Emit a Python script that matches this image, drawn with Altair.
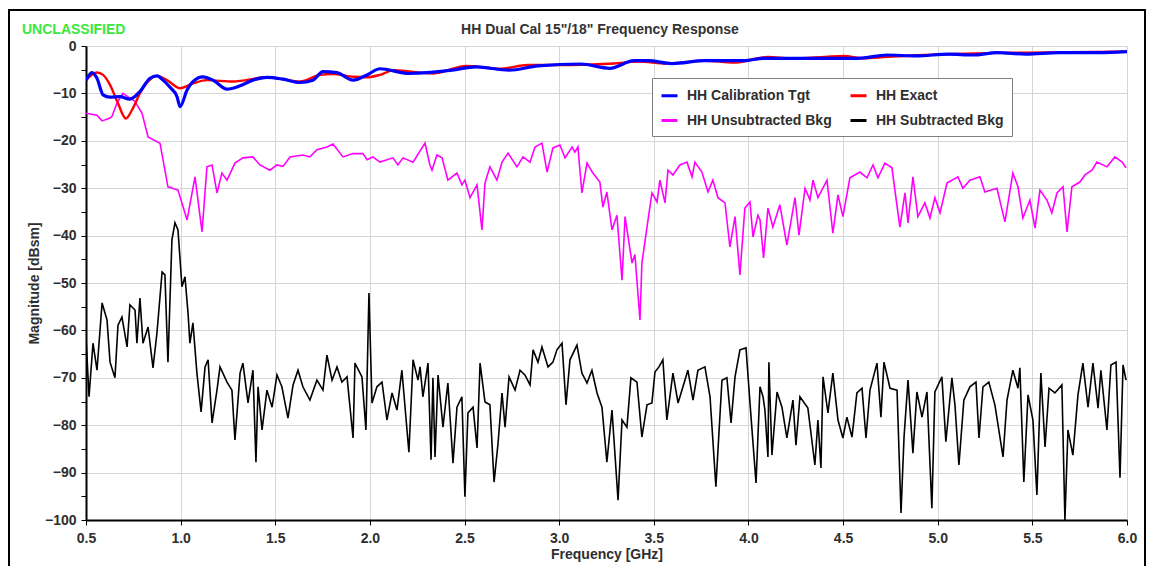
import altair as alt
import pandas as pd

# ---------------- data ----------------
# legend order (Vega fills the 2-column legend column by column)
series_names = ["HH Calibration Tgt", "HH Unsubtracted Bkg", "HH Exact", "HH Subtracted Bkg"]
series_colors = ["#0000ff", "#ff00ff", "#ff0000", "#000000"]

cal_f = [0.500, 0.532, 0.558, 0.590, 0.627, 0.680, 0.732, 0.785, 0.838, 0.875, 0.907,
         0.944, 0.981, 0.997, 1.034, 1.065, 1.118, 1.171, 1.245, 1.314, 1.382, 1.456,
         1.541, 1.631, 1.699, 1.752, 1.826, 1.911, 1.985, 2.053, 2.206, 2.434, 2.561,
         2.735, 2.888, 3.115, 3.268, 3.395, 3.469, 3.596, 3.770, 3.976, 4.077, 4.330,
         4.431, 4.579, 4.732, 4.885, 5.059, 5.186, 5.313, 5.466, 5.641, 5.847, 6.000]
cal_db = [-7.2, -5.6, -6.8, -10.3, -10.8, -10.7, -11.2, -9.6, -6.8, -6.3, -7.2,
          -8.7, -10.7, -12.8, -9.3, -7.5, -6.5, -7.2, -9.1, -8.4, -7.2, -6.6,
          -7.0, -7.7, -7.2, -5.4, -5.6, -7.2, -6.1, -4.8, -5.8, -5.1, -4.4,
          -5.1, -4.2, -3.8, -4.7, -3.1, -3.1, -3.7, -3.1, -3.1, -2.6, -2.6,
          -2.6, -2.6, -1.9, -2.1, -1.7, -1.9, -1.4, -1.7, -1.4, -1.4, -1.2]

exact_f = [0.500, 0.558, 0.590, 0.627, 0.669, 0.711, 0.743, 0.785, 0.828, 0.875, 0.928,
           0.997, 1.065, 1.139, 1.277, 1.456, 1.631, 1.736, 1.805, 1.911, 1.985, 2.053,
           2.127, 2.333, 2.508, 2.688, 2.835, 3.062, 3.290, 3.416, 3.570, 3.770, 3.923,
           4.103, 4.225, 4.404, 4.505, 4.605, 4.732, 4.933, 5.086, 5.265, 5.693, 6.000]
exact_db = [-7.2, -5.6, -6.1, -8.2, -12.1, -15.3, -13.5, -10.0, -7.5, -6.3, -7.2,
            -8.9, -7.9, -7.2, -7.5, -6.6, -7.5, -6.1, -5.9, -6.5, -6.6, -6.1,
            -5.1, -5.8, -4.2, -4.8, -4.0, -4.0, -3.7, -3.3, -3.7, -3.1, -3.5,
            -2.3, -2.6, -2.3, -2.1, -2.6, -2.3, -1.9, -1.7, -1.5, -1.3, -1.2]

unsub_f = [0.500, 0.558, 0.585, 0.627, 0.637, 0.664, 0.695, 0.759, 0.796, 0.828, 0.891,
           0.933, 0.986, 1.034, 1.076, 1.113, 1.139, 1.166, 1.192, 1.218, 1.245, 1.287,
           1.329, 1.382, 1.419, 1.472, 1.509, 1.541, 1.578, 1.646, 1.683, 1.720, 1.773,
           1.805, 1.858, 1.911, 1.963, 1.985, 2.016, 2.053, 2.122, 2.148, 2.175, 2.228,
           2.291, 2.317, 2.328, 2.354, 2.381, 2.412, 2.460, 2.486, 2.502, 2.529, 2.566,
           2.592, 2.608, 2.634, 2.671, 2.698, 2.730, 2.777, 2.809, 2.846, 2.872, 2.909,
           2.936, 2.967, 3.004, 3.031, 3.068, 3.083, 3.099, 3.120, 3.147, 3.178, 3.215,
           3.231, 3.252, 3.279, 3.305, 3.332, 3.348, 3.385, 3.400, 3.427, 3.437, 3.464,
           3.490, 3.517, 3.532, 3.559, 3.575, 3.601, 3.638, 3.675, 3.702, 3.717, 3.754,
           3.786, 3.812, 3.839, 3.876, 3.902, 3.929, 3.955, 3.981, 4.008, 4.024, 4.050,
           4.061, 4.080, 4.103, 4.129, 4.166, 4.203, 4.246, 4.267, 4.299, 4.325, 4.341,
           4.367, 4.415, 4.446, 4.473, 4.499, 4.536, 4.589, 4.626, 4.658, 4.684, 4.721,
           4.758, 4.800, 4.827, 4.843, 4.869, 4.895, 4.932, 4.959, 4.985, 5.012, 5.049,
           5.107, 5.133, 5.170, 5.223, 5.249, 5.313, 5.355, 5.397, 5.424, 5.450, 5.487,
           5.514, 5.540, 5.577, 5.603, 5.630, 5.662, 5.683, 5.709, 5.751, 5.778, 5.815,
           5.841, 5.894, 5.936, 5.974, 5.995]
unsub_db = [-14.2, -14.6, -15.8, -15.2, -14.9, -12.0, -10.0, -11.7, -14.2, -19.2, -20.5,
            -29.7, -30.4, -36.7, -27.6, -39.2, -25.5, -25.1, -31.0, -26.8, -28.3, -24.7,
            -23.6, -23.4, -25.1, -26.2, -25.1, -25.4, -23.4, -23.0, -23.4, -21.9, -21.3,
            -20.7, -23.4, -22.7, -22.7, -24.0, -23.4, -24.5, -23.6, -25.1, -23.6, -24.5,
            -20.5, -25.1, -26.2, -23.0, -23.6, -28.3, -26.8, -29.3, -28.3, -32.0, -29.3,
            -38.8, -28.9, -25.5, -28.3, -24.5, -22.6, -25.5, -23.4, -24.5, -21.3, -20.5,
            -26.6, -21.5, -20.9, -23.6, -21.3, -22.4, -21.3, -31.0, -24.7, -26.8, -28.7,
            -34.0, -30.8, -38.8, -35.7, -49.4, -36.0, -45.8, -44.0, -57.8, -45.8, -38.2,
            -31.0, -32.9, -28.3, -33.1, -26.2, -27.2, -25.1, -24.5, -27.6, -24.5, -26.6,
            -30.8, -28.3, -32.0, -33.1, -42.4, -36.0, -48.3, -34.2, -32.9, -40.3, -35.7,
            -36.7, -44.7, -34.2, -38.2, -33.5, -42.0, -32.0, -39.9, -30.0, -32.5, -28.3,
            -32.0, -28.3, -39.5, -31.4, -36.0, -27.8, -26.6, -27.8, -25.1, -27.8, -24.7,
            -25.7, -38.2, -31.0, -37.3, -27.6, -36.0, -33.1, -36.3, -32.0, -35.2, -28.9,
            -27.6, -30.0, -28.3, -27.6, -30.8, -30.0, -37.1, -26.8, -29.7, -36.3, -32.5,
            -38.4, -30.4, -32.5, -35.2, -31.0, -29.7, -39.2, -29.7, -28.7, -27.2, -26.2,
            -24.5, -25.5, -23.4, -24.5, -25.7]

sub_f = [0.500, 0.516, 0.537, 0.558, 0.585, 0.611, 0.627, 0.653, 0.669, 0.690, 0.717,
         0.732, 0.759, 0.769, 0.785, 0.801, 0.828, 0.854, 0.875, 0.902, 0.917, 0.933,
         0.954, 0.970, 0.986, 1.007, 1.023, 1.039, 1.049, 1.065, 1.086, 1.108, 1.129,
         1.145, 1.166, 1.192, 1.208, 1.245, 1.271, 1.287, 1.314, 1.329, 1.356, 1.382,
         1.398, 1.409, 1.430, 1.456, 1.483, 1.509, 1.535, 1.567, 1.594, 1.620, 1.646,
         1.683, 1.720, 1.752, 1.773, 1.800, 1.826, 1.852, 1.879, 1.911, 1.921, 1.958,
         1.979, 1.995, 2.011, 2.037, 2.064, 2.090, 2.117, 2.143, 2.169, 2.206, 2.228,
         2.254, 2.265, 2.280, 2.307, 2.323, 2.333, 2.344, 2.360, 2.386, 2.412, 2.439,
         2.460, 2.486, 2.502, 2.518, 2.545, 2.566, 2.582, 2.608, 2.634, 2.656, 2.677,
         2.698, 2.714, 2.735, 2.767, 2.793, 2.819, 2.846, 2.862, 2.888, 2.909, 2.941,
         2.967, 2.988, 3.015, 3.036, 3.057, 3.094, 3.120, 3.147, 3.173, 3.200, 3.226,
         3.252, 3.279, 3.311, 3.332, 3.358, 3.379, 3.411, 3.437, 3.464, 3.490, 3.506,
         3.527, 3.548, 3.569, 3.601, 3.628, 3.654, 3.680, 3.707, 3.733, 3.770, 3.797,
         3.828, 3.860, 3.886, 3.908, 3.929, 3.955, 3.987, 4.008, 4.040, 4.061, 4.077,
         4.087, 4.103, 4.108, 4.124, 4.151, 4.177, 4.203, 4.235, 4.251, 4.272, 4.314,
         4.351, 4.367, 4.383, 4.394, 4.420, 4.446, 4.473, 4.499, 4.520, 4.547, 4.573,
         4.600, 4.621, 4.642, 4.679, 4.700, 4.716, 4.748, 4.785, 4.806, 4.822, 4.843,
         4.869, 4.890, 4.917, 4.943, 4.969, 4.985, 5.022, 5.043, 5.075, 5.091, 5.112,
         5.138, 5.170, 5.202, 5.218, 5.239, 5.270, 5.302, 5.345, 5.366, 5.397, 5.424,
         5.434, 5.455, 5.477, 5.503, 5.524, 5.545, 5.567, 5.588, 5.619, 5.656, 5.672,
         5.688, 5.714, 5.741, 5.767, 5.794, 5.820, 5.847, 5.862, 5.894, 5.915, 5.942,
         5.963, 5.979, 5.995]
sub_db = [-61.4, -74.0, -62.7, -68.4, -54.2, -57.8, -66.7, -70.0, -58.9, -57.2, -63.5,
          -54.6, -55.7, -62.7, -53.2, -62.7, -59.3, -67.9, -60.5, -47.7, -48.3, -66.7,
          -40.9, -37.3, -38.8, -50.8, -48.7, -56.3, -62.7, -58.4, -69.0, -77.2, -67.7,
          -66.2, -79.5, -72.6, -67.7, -70.9, -72.6, -83.1, -69.0, -66.9, -75.3, -68.4,
          -87.8, -71.9, -81.0, -72.6, -76.2, -69.4, -71.9, -78.5, -71.5, -68.4, -71.9,
          -74.7, -70.5, -72.6, -65.2, -70.5, -67.7, -70.9, -69.8, -82.7, -66.9, -69.8,
          -81.0, -52.1, -75.3, -71.9, -70.9, -78.9, -73.2, -76.8, -68.4, -85.7, -66.2,
          -70.5, -67.7, -74.0, -66.9, -87.3, -70.0, -86.7, -69.4, -80.4, -71.1, -88.0,
          -76.2, -74.0, -95.1, -77.4, -76.2, -84.8, -66.9, -75.1, -75.7, -92.0, -83.8,
          -73.2, -80.4, -69.8, -72.6, -68.4, -69.4, -71.5, -64.1, -66.7, -63.5, -67.7,
          -66.7, -64.1, -62.7, -75.7, -66.2, -63.1, -69.0, -71.1, -68.4, -73.2, -76.2,
          -87.8, -76.8, -95.8, -78.9, -80.4, -70.0, -70.9, -82.5, -75.7, -75.3, -68.8,
          -67.7, -66.2, -78.9, -69.0, -75.3, -71.9, -68.4, -74.7, -68.4, -67.7, -74.0,
          -93.0, -70.5, -70.0, -79.5, -69.8, -64.1, -63.7, -75.3, -92.2, -71.9, -74.0,
          -76.8, -86.7, -66.7, -86.3, -73.0, -76.2, -82.7, -74.7, -84.2, -74.0, -76.4,
          -88.4, -78.9, -89.0, -69.8, -77.4, -69.0, -78.9, -82.7, -78.3, -82.5, -73.2,
          -72.2, -82.7, -72.6, -66.9, -78.3, -66.7, -72.2, -72.6, -98.5, -82.5, -70.5,
          -85.9, -73.0, -78.3, -73.0, -97.5, -73.0, -69.8, -83.5, -70.0, -75.7, -88.4,
          -74.7, -71.9, -70.9, -82.7, -71.9, -70.9, -75.7, -86.7, -74.7, -68.4, -72.2,
          -67.9, -92.0, -73.6, -78.9, -94.7, -69.0, -84.6, -72.2, -73.2, -71.5, -100.0,
          -81.0, -86.3, -73.6, -66.9, -76.2, -66.9, -76.4, -68.4, -81.0, -67.3, -66.7,
          -91.1, -67.3, -70.5]

x_ticks = [0.5, 1.0, 1.5, 2.0, 2.5, 3.0, 3.5, 4.0, 4.5, 5.0, 5.5, 6.0]
y_ticks = [-100, -95, -90, -85, -80, -75, -70, -65, -60, -55, -50, -45, -40, -35, -30,
           -25, -20, -15, -10, -5, 0]

title_text = 'HH Dual Cal 15"/18" Frequency Response'
stamp_text = "UNCLASSIFIED"

# ---------------- build table ----------------
frames = []
for name, fs, ds in [("HH Calibration Tgt", cal_f, cal_db),
                     ("HH Exact", exact_f, exact_db),
                     ("HH Unsubtracted Bkg", unsub_f, unsub_db),
                     ("HH Subtracted Bkg", sub_f, sub_db)]:
    frames.append(pd.DataFrame({"f": fs, "db": ds, "series": name}))
df = pd.concat(frames, ignore_index=True)

FONT = "Liberation Sans"
TXT = "#2e2e2e"

x_enc = alt.X("f:Q",
              scale=alt.Scale(domain=[0.5, 6.0], nice=False, zero=False),
              axis=alt.Axis(values=x_ticks, format=".1f", title="Frequency [GHz]",
                            labelFlush=False, tickSize=5, labelPadding=6, titlePadding=2))
y_enc = alt.Y("db:Q",
              scale=alt.Scale(domain=[-100, 0], nice=False, zero=False),
              axis=alt.Axis(values=y_ticks, title="Magnitude [dBsm]",
                            labelExpr="datum.value % 10 == 0 ? datum.label : ''",
                            gridOpacity={"condition": {"test": "datum.value % 10 != 0", "value": 0},
                                         "value": 1},
                            tickSize=5, labelPadding=5, titlePadding=3))
color_enc = alt.Color("series:N",
                      scale=alt.Scale(domain=series_names, range=series_colors),
                      legend=alt.Legend(title=None, columns=2, orient="none",
                                        legendX=566, legendY=32))

base = alt.Chart(df)


def line_layer(name, width, interp):
    return base.transform_filter(alt.datum.series == name).mark_line(
        strokeWidth=width, clip=True, interpolate=interp).encode(
        x=x_enc, y=y_enc, color=color_enc)


layers = [
    line_layer("HH Subtracted Bkg", 1.6, "linear"),
    line_layer("HH Unsubtracted Bkg", 1.6, "linear"),
    line_layer("HH Exact", 2.4, "monotone"),
    line_layer("HH Calibration Tgt", 3.2, "monotone"),
]

frame = alt.Chart(pd.DataFrame({"k": [0]})).mark_rect(
    fillOpacity=0, stroke="black", strokeWidth=2, clip=False).encode(
    x=alt.value(-77), x2=alt.value(1059), y=alt.value(-36), y2=alt.value(600))

stamp = alt.Chart(pd.DataFrame({"t": [stamp_text]})).mark_text(
    align="left", baseline="middle", fontSize=14, fontWeight="bold",
    font=FONT, color="#3ce63c").encode(
    x=alt.value(-64), y=alt.value(-16), text="t:N")

title = alt.Chart(pd.DataFrame({"t": [title_text]})).mark_text(
    align="center", baseline="middle", fontSize=14, fontWeight="bold",
    font=FONT, color="#333333").encode(
    x=alt.value(514), y=alt.value(-16), text="t:N")

chart = alt.layer(*layers, frame, stamp, title).properties(
    width=1041, height=474,
    padding={"left": 78, "top": 38, "right": 19, "bottom": 46},
    autosize=alt.AutoSizeParams(type="none"),
).configure_view(
    stroke="transparent"
).configure_axis(
    labelFont=FONT, labelFontSize=14, labelFontWeight="bold", labelColor=TXT,
    titleFont=FONT, titleFontSize=14, titleFontWeight="bold", titleColor=TXT,
    gridColor="#d6d6d6", gridWidth=1,
    domainColor="#000000", domainWidth=2, tickColor="#000000", tickWidth=1,
).configure_legend(
    labelFont=FONT, labelFontSize=14, labelFontWeight="bold", labelColor=TXT,
    symbolType="stroke", symbolStrokeWidth=3, symbolSize=256,
    strokeColor="#808080", fillColor="#ffffff", padding=8,
    rowPadding=8, columnPadding=12, labelOffset=8,
)

chart.save("out.html", embed_options={"renderer": "svg", "actions": False})
